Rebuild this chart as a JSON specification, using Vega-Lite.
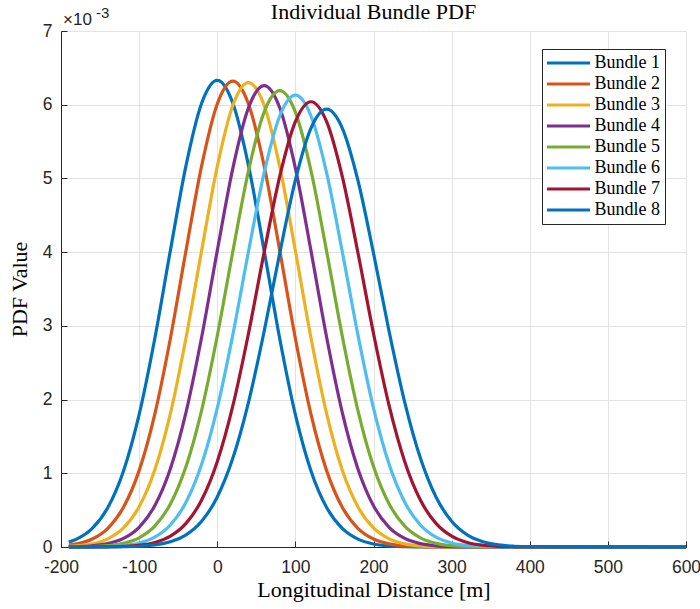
{
  "$schema": "https://vega.github.io/schema/vega-lite/v6.json",
  "width": 625,
  "height": 516,
  "autosize": {"type": "none"},
  "padding": {"left": 61, "top": 31, "right": 14, "bottom": 62},
  "background": "white",
  "title": {"text": "Individual Bundle PDF", "font": "Liberation Serif", "fontSize": 22, "fontWeight": "normal", "color": "black", "frame": "group", "anchor": "middle", "baseline": "alphabetic", "offset": -14, "dy": 21},
  "config": {
    "view": {"stroke": null},
    "axis": {
      "domainColor": "#262626", "domainWidth": 1,
      "tickColor": "#262626", "tickSize": -6, "tickWidth": 1,
      "gridColor": "#e3e3e3", "gridWidth": 1,
      "labelFont": "Liberation Sans", "labelFontSize": 17.5, "labelColor": "#262626",
      "labelFlush": false, "labelOverlap": false,
      "titleFont": "Liberation Serif", "titleFontSize": 22, "titleFontWeight": "normal", "titleColor": "black"
    },
    "legend": {
      "orient": "none", "legendX": 481, "legendY": 18,
      "symbolType": "M-4,0L4,0", "symbolSize": 115.6, "symbolStrokeWidth": 3,
      "symbolOffset": 12.5, "labelOffset": 17,
      "labelFont": "Liberation Serif", "labelFontSize": 18, "labelColor": "black", "labelLimit": 300,
      "rowPadding": 3, "padding": 5, "strokeColor": "#262626", "fillColor": "white"
    }
  },
  "layer": [
    {
      "data": {"values": [
        {"bundle":"Bundle 1","x":-190,"pdf":0.067},{"bundle":"Bundle 1","x":-180,"pdf":0.107},{"bundle":"Bundle 1","x":-160,"pdf":0.252},{"bundle":"Bundle 1","x":-140,"pdf":0.536},{"bundle":"Bundle 1","x":-120,"pdf":1.032},{"bundle":"Bundle 1","x":-100,"pdf":1.796},{"bundle":"Bundle 1","x":-80,"pdf":2.826},{"bundle":"Bundle 1","x":-60,"pdf":4.022},{"bundle":"Bundle 1","x":-40,"pdf":5.174},{"bundle":"Bundle 1","x":-20,"pdf":6.019},{"bundle":"Bundle 1","x":0,"pdf":6.33},{"bundle":"Bundle 1","x":20,"pdf":6.019},{"bundle":"Bundle 1","x":40,"pdf":5.174},{"bundle":"Bundle 1","x":60,"pdf":4.022},{"bundle":"Bundle 1","x":80,"pdf":2.826},{"bundle":"Bundle 1","x":100,"pdf":1.796},{"bundle":"Bundle 1","x":120,"pdf":1.032},{"bundle":"Bundle 1","x":140,"pdf":0.536},{"bundle":"Bundle 1","x":160,"pdf":0.252},{"bundle":"Bundle 1","x":180,"pdf":0.107},{"bundle":"Bundle 1","x":200,"pdf":0.041},{"bundle":"Bundle 1","x":220,"pdf":0.0142},{"bundle":"Bundle 1","x":240,"pdf":0.0045},{"bundle":"Bundle 1","x":260,"pdf":0.0013},{"bundle":"Bundle 1","x":280,"pdf":0.0003},{"bundle":"Bundle 1","x":300,"pdf":0.0001},{"bundle":"Bundle 1","x":320,"pdf":0},{"bundle":"Bundle 1","x":340,"pdf":0},{"bundle":"Bundle 1","x":360,"pdf":0},{"bundle":"Bundle 1","x":380,"pdf":0},{"bundle":"Bundle 1","x":400,"pdf":0},{"bundle":"Bundle 1","x":600,"pdf":0},
        {"bundle":"Bundle 2","x":-190,"pdf":0.0249},{"bundle":"Bundle 2","x":-180,"pdf":0.0416},{"bundle":"Bundle 2","x":-160,"pdf":0.108},{"bundle":"Bundle 2","x":-140,"pdf":0.254},{"bundle":"Bundle 2","x":-120,"pdf":0.539},{"bundle":"Bundle 2","x":-100,"pdf":1.036},{"bundle":"Bundle 2","x":-80,"pdf":1.8},{"bundle":"Bundle 2","x":-60,"pdf":2.829},{"bundle":"Bundle 2","x":-40,"pdf":4.021},{"bundle":"Bundle 2","x":-20,"pdf":5.17},{"bundle":"Bundle 2","x":0,"pdf":6.01},{"bundle":"Bundle 2","x":20,"pdf":6.32},{"bundle":"Bundle 2","x":40,"pdf":6.01},{"bundle":"Bundle 2","x":60,"pdf":5.17},{"bundle":"Bundle 2","x":80,"pdf":4.021},{"bundle":"Bundle 2","x":100,"pdf":2.829},{"bundle":"Bundle 2","x":120,"pdf":1.8},{"bundle":"Bundle 2","x":140,"pdf":1.036},{"bundle":"Bundle 2","x":160,"pdf":0.539},{"bundle":"Bundle 2","x":180,"pdf":0.254},{"bundle":"Bundle 2","x":200,"pdf":0.108},{"bundle":"Bundle 2","x":220,"pdf":0.0416},{"bundle":"Bundle 2","x":240,"pdf":0.0145},{"bundle":"Bundle 2","x":260,"pdf":0.0046},{"bundle":"Bundle 2","x":280,"pdf":0.0013},{"bundle":"Bundle 2","x":300,"pdf":0.0003},{"bundle":"Bundle 2","x":320,"pdf":0.0001},{"bundle":"Bundle 2","x":340,"pdf":0},{"bundle":"Bundle 2","x":360,"pdf":0},{"bundle":"Bundle 2","x":380,"pdf":0},{"bundle":"Bundle 2","x":400,"pdf":0},{"bundle":"Bundle 2","x":600,"pdf":0},
        {"bundle":"Bundle 3","x":-190,"pdf":0.0086},{"bundle":"Bundle 3","x":-180,"pdf":0.015},{"bundle":"Bundle 3","x":-160,"pdf":0.0428},{"bundle":"Bundle 3","x":-140,"pdf":0.111},{"bundle":"Bundle 3","x":-120,"pdf":0.258},{"bundle":"Bundle 3","x":-100,"pdf":0.546},{"bundle":"Bundle 3","x":-80,"pdf":1.045},{"bundle":"Bundle 3","x":-60,"pdf":1.809},{"bundle":"Bundle 3","x":-40,"pdf":2.835},{"bundle":"Bundle 3","x":-20,"pdf":4.02},{"bundle":"Bundle 3","x":0,"pdf":5.16},{"bundle":"Bundle 3","x":20,"pdf":5.993},{"bundle":"Bundle 3","x":40,"pdf":6.3},{"bundle":"Bundle 3","x":60,"pdf":5.993},{"bundle":"Bundle 3","x":80,"pdf":5.16},{"bundle":"Bundle 3","x":100,"pdf":4.02},{"bundle":"Bundle 3","x":120,"pdf":2.835},{"bundle":"Bundle 3","x":140,"pdf":1.809},{"bundle":"Bundle 3","x":160,"pdf":1.045},{"bundle":"Bundle 3","x":180,"pdf":0.546},{"bundle":"Bundle 3","x":200,"pdf":0.258},{"bundle":"Bundle 3","x":220,"pdf":0.111},{"bundle":"Bundle 3","x":240,"pdf":0.0428},{"bundle":"Bundle 3","x":260,"pdf":0.015},{"bundle":"Bundle 3","x":280,"pdf":0.0048},{"bundle":"Bundle 3","x":300,"pdf":0.0014},{"bundle":"Bundle 3","x":320,"pdf":0.0004},{"bundle":"Bundle 3","x":340,"pdf":0.0001},{"bundle":"Bundle 3","x":360,"pdf":0},{"bundle":"Bundle 3","x":380,"pdf":0},{"bundle":"Bundle 3","x":400,"pdf":0},{"bundle":"Bundle 3","x":600,"pdf":0},
        {"bundle":"Bundle 4","x":-190,"pdf":0.0028},{"bundle":"Bundle 4","x":-180,"pdf":0.0052},{"bundle":"Bundle 4","x":-160,"pdf":0.0161},{"bundle":"Bundle 4","x":-140,"pdf":0.0453},{"bundle":"Bundle 4","x":-120,"pdf":0.116},{"bundle":"Bundle 4","x":-100,"pdf":0.267},{"bundle":"Bundle 4","x":-80,"pdf":0.559},{"bundle":"Bundle 4","x":-60,"pdf":1.062},{"bundle":"Bundle 4","x":-40,"pdf":1.826},{"bundle":"Bundle 4","x":-20,"pdf":2.845},{"bundle":"Bundle 4","x":0,"pdf":4.017},{"bundle":"Bundle 4","x":20,"pdf":5.14},{"bundle":"Bundle 4","x":40,"pdf":5.959},{"bundle":"Bundle 4","x":60,"pdf":6.26},{"bundle":"Bundle 4","x":80,"pdf":5.959},{"bundle":"Bundle 4","x":100,"pdf":5.14},{"bundle":"Bundle 4","x":120,"pdf":4.017},{"bundle":"Bundle 4","x":140,"pdf":2.845},{"bundle":"Bundle 4","x":160,"pdf":1.826},{"bundle":"Bundle 4","x":180,"pdf":1.062},{"bundle":"Bundle 4","x":200,"pdf":0.559},{"bundle":"Bundle 4","x":220,"pdf":0.267},{"bundle":"Bundle 4","x":240,"pdf":0.116},{"bundle":"Bundle 4","x":260,"pdf":0.0453},{"bundle":"Bundle 4","x":280,"pdf":0.0161},{"bundle":"Bundle 4","x":300,"pdf":0.0052},{"bundle":"Bundle 4","x":320,"pdf":0.0015},{"bundle":"Bundle 4","x":340,"pdf":0.0004},{"bundle":"Bundle 4","x":360,"pdf":0.0001},{"bundle":"Bundle 4","x":380,"pdf":0},{"bundle":"Bundle 4","x":400,"pdf":0},{"bundle":"Bundle 4","x":600,"pdf":0},
        {"bundle":"Bundle 5","x":-190,"pdf":0.0009},{"bundle":"Bundle 5","x":-180,"pdf":0.0018},{"bundle":"Bundle 5","x":-160,"pdf":0.006},{"bundle":"Bundle 5","x":-140,"pdf":0.0181},{"bundle":"Bundle 5","x":-120,"pdf":0.0498},{"bundle":"Bundle 5","x":-100,"pdf":0.125},{"bundle":"Bundle 5","x":-80,"pdf":0.283},{"bundle":"Bundle 5","x":-60,"pdf":0.583},{"bundle":"Bundle 5","x":-40,"pdf":1.091},{"bundle":"Bundle 5","x":-20,"pdf":1.854},{"bundle":"Bundle 5","x":0,"pdf":2.862},{"bundle":"Bundle 5","x":20,"pdf":4.011},{"bundle":"Bundle 5","x":40,"pdf":5.104},{"bundle":"Bundle 5","x":60,"pdf":5.899},{"bundle":"Bundle 5","x":80,"pdf":6.19},{"bundle":"Bundle 5","x":100,"pdf":5.899},{"bundle":"Bundle 5","x":120,"pdf":5.104},{"bundle":"Bundle 5","x":140,"pdf":4.011},{"bundle":"Bundle 5","x":160,"pdf":2.862},{"bundle":"Bundle 5","x":180,"pdf":1.854},{"bundle":"Bundle 5","x":200,"pdf":1.091},{"bundle":"Bundle 5","x":220,"pdf":0.583},{"bundle":"Bundle 5","x":240,"pdf":0.283},{"bundle":"Bundle 5","x":260,"pdf":0.125},{"bundle":"Bundle 5","x":280,"pdf":0.0498},{"bundle":"Bundle 5","x":300,"pdf":0.0181},{"bundle":"Bundle 5","x":320,"pdf":0.006},{"bundle":"Bundle 5","x":340,"pdf":0.0018},{"bundle":"Bundle 5","x":360,"pdf":0.0005},{"bundle":"Bundle 5","x":380,"pdf":0.0001},{"bundle":"Bundle 5","x":400,"pdf":0},{"bundle":"Bundle 5","x":600,"pdf":0},
        {"bundle":"Bundle 6","x":-190,"pdf":0.0003},{"bundle":"Bundle 6","x":-180,"pdf":0.0006},{"bundle":"Bundle 6","x":-160,"pdf":0.0021},{"bundle":"Bundle 6","x":-140,"pdf":0.0069},{"bundle":"Bundle 6","x":-120,"pdf":0.0203},{"bundle":"Bundle 6","x":-100,"pdf":0.0547},{"bundle":"Bundle 6","x":-80,"pdf":0.134},{"bundle":"Bundle 6","x":-60,"pdf":0.299},{"bundle":"Bundle 6","x":-40,"pdf":0.607},{"bundle":"Bundle 6","x":-20,"pdf":1.121},{"bundle":"Bundle 6","x":0,"pdf":1.884},{"bundle":"Bundle 6","x":20,"pdf":2.881},{"bundle":"Bundle 6","x":40,"pdf":4.009},{"bundle":"Bundle 6","x":60,"pdf":5.075},{"bundle":"Bundle 6","x":80,"pdf":5.847},{"bundle":"Bundle 6","x":100,"pdf":6.13},{"bundle":"Bundle 6","x":120,"pdf":5.847},{"bundle":"Bundle 6","x":140,"pdf":5.075},{"bundle":"Bundle 6","x":160,"pdf":4.009},{"bundle":"Bundle 6","x":180,"pdf":2.881},{"bundle":"Bundle 6","x":200,"pdf":1.884},{"bundle":"Bundle 6","x":220,"pdf":1.121},{"bundle":"Bundle 6","x":240,"pdf":0.607},{"bundle":"Bundle 6","x":260,"pdf":0.299},{"bundle":"Bundle 6","x":280,"pdf":0.134},{"bundle":"Bundle 6","x":300,"pdf":0.0547},{"bundle":"Bundle 6","x":320,"pdf":0.0203},{"bundle":"Bundle 6","x":340,"pdf":0.0069},{"bundle":"Bundle 6","x":360,"pdf":0.0021},{"bundle":"Bundle 6","x":380,"pdf":0.0006},{"bundle":"Bundle 6","x":400,"pdf":0.0001},{"bundle":"Bundle 6","x":600,"pdf":0},
        {"bundle":"Bundle 7","x":-190,"pdf":0.0001},{"bundle":"Bundle 7","x":-180,"pdf":0.0002},{"bundle":"Bundle 7","x":-160,"pdf":0.0007},{"bundle":"Bundle 7","x":-140,"pdf":0.0026},{"bundle":"Bundle 7","x":-120,"pdf":0.0081},{"bundle":"Bundle 7","x":-100,"pdf":0.0234},{"bundle":"Bundle 7","x":-80,"pdf":0.0612},{"bundle":"Bundle 7","x":-60,"pdf":0.147},{"bundle":"Bundle 7","x":-40,"pdf":0.32},{"bundle":"Bundle 7","x":-20,"pdf":0.637},{"bundle":"Bundle 7","x":0,"pdf":1.157},{"bundle":"Bundle 7","x":20,"pdf":1.917},{"bundle":"Bundle 7","x":40,"pdf":2.897},{"bundle":"Bundle 7","x":60,"pdf":3.996},{"bundle":"Bundle 7","x":80,"pdf":5.027},{"bundle":"Bundle 7","x":100,"pdf":5.769},{"bundle":"Bundle 7","x":120,"pdf":6.04},{"bundle":"Bundle 7","x":140,"pdf":5.769},{"bundle":"Bundle 7","x":160,"pdf":5.027},{"bundle":"Bundle 7","x":180,"pdf":3.996},{"bundle":"Bundle 7","x":200,"pdf":2.897},{"bundle":"Bundle 7","x":220,"pdf":1.917},{"bundle":"Bundle 7","x":240,"pdf":1.157},{"bundle":"Bundle 7","x":260,"pdf":0.637},{"bundle":"Bundle 7","x":280,"pdf":0.32},{"bundle":"Bundle 7","x":300,"pdf":0.147},{"bundle":"Bundle 7","x":320,"pdf":0.0612},{"bundle":"Bundle 7","x":340,"pdf":0.0234},{"bundle":"Bundle 7","x":360,"pdf":0.0081},{"bundle":"Bundle 7","x":380,"pdf":0.0026},{"bundle":"Bundle 7","x":400,"pdf":0.0007},{"bundle":"Bundle 7","x":600,"pdf":0},
        {"bundle":"Bundle 8","x":-190,"pdf":0},{"bundle":"Bundle 8","x":-180,"pdf":0.0001},{"bundle":"Bundle 8","x":-160,"pdf":0.0003},{"bundle":"Bundle 8","x":-140,"pdf":0.001},{"bundle":"Bundle 8","x":-120,"pdf":0.0033},{"bundle":"Bundle 8","x":-100,"pdf":0.0101},{"bundle":"Bundle 8","x":-80,"pdf":0.028},{"bundle":"Bundle 8","x":-60,"pdf":0.0709},{"bundle":"Bundle 8","x":-40,"pdf":0.164},{"bundle":"Bundle 8","x":-20,"pdf":0.349},{"bundle":"Bundle 8","x":0,"pdf":0.678},{"bundle":"Bundle 8","x":20,"pdf":1.206},{"bundle":"Bundle 8","x":40,"pdf":1.963},{"bundle":"Bundle 8","x":60,"pdf":2.924},{"bundle":"Bundle 8","x":80,"pdf":3.987},{"bundle":"Bundle 8","x":100,"pdf":4.976},{"bundle":"Bundle 8","x":120,"pdf":5.683},{"bundle":"Bundle 8","x":140,"pdf":5.94},{"bundle":"Bundle 8","x":160,"pdf":5.683},{"bundle":"Bundle 8","x":180,"pdf":4.976},{"bundle":"Bundle 8","x":200,"pdf":3.987},{"bundle":"Bundle 8","x":220,"pdf":2.924},{"bundle":"Bundle 8","x":240,"pdf":1.963},{"bundle":"Bundle 8","x":260,"pdf":1.206},{"bundle":"Bundle 8","x":280,"pdf":0.678},{"bundle":"Bundle 8","x":300,"pdf":0.349},{"bundle":"Bundle 8","x":320,"pdf":0.164},{"bundle":"Bundle 8","x":340,"pdf":0.0709},{"bundle":"Bundle 8","x":360,"pdf":0.028},{"bundle":"Bundle 8","x":380,"pdf":0.0101},{"bundle":"Bundle 8","x":400,"pdf":0.0033},{"bundle":"Bundle 8","x":600,"pdf":0}
      ]},
      "mark": {"type": "line", "interpolate": "monotone", "strokeWidth": 3.2},
      "encoding": {
        "x": {"field": "x", "type": "quantitative", "scale": {"domain": [-200, 600], "nice": false},
              "axis": {"values": [-200, -100, 0, 100, 200, 300, 400, 500, 600], "labelExpr": "'' + datum.value", "labelPadding": 17, "titlePadding": 4},
              "title": "Longitudinal Distance [m]"},
        "y": {"field": "pdf", "type": "quantitative", "scale": {"domain": [0, 7], "nice": false},
              "axis": {"values": [0, 1, 2, 3, 4, 5, 6, 7], "labelExpr": "'' + datum.value", "labelPadding": 15, "titlePadding": 11},
              "title": "PDF Value"},
        "color": {"field": "bundle", "type": "nominal",
                  "scale": {"domain": ["Bundle 1", "Bundle 2", "Bundle 3", "Bundle 4", "Bundle 5", "Bundle 6", "Bundle 7", "Bundle 8"],
                            "range": ["#0072BD", "#D95319", "#EDB120", "#7E2F8E", "#77AC30", "#4DBEEE", "#A2142F", "#0072BD"]},
                  "legend": {"title": null, "labelFontSize": 18, "labelOffset": 17}}
      }
    },
    {
      "data": {"values": [{"x": -200, "pdf": 7, "t": "×10"}]},
      "mark": {"type": "text", "align": "left", "baseline": "alphabetic", "dx": 2, "dy": -6, "font": "Liberation Sans", "fontSize": 17, "color": "#262626"},
      "encoding": {"x": {"field": "x", "type": "quantitative"}, "y": {"field": "pdf", "type": "quantitative"}, "text": {"field": "t"}}
    },
    {
      "data": {"values": [{"x": -200, "pdf": 7, "t": "-3"}]},
      "mark": {"type": "text", "align": "left", "baseline": "alphabetic", "dx": 35, "dy": -13, "font": "Liberation Sans", "fontSize": 15, "color": "#262626"},
      "encoding": {"x": {"field": "x", "type": "quantitative"}, "y": {"field": "pdf", "type": "quantitative"}, "text": {"field": "t"}}
    }
  ]
}
